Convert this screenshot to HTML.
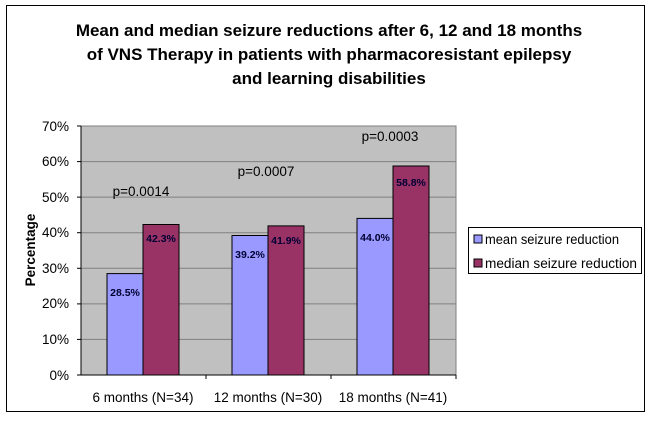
<!DOCTYPE html><html><head><style>body{margin:0;background:#fff}svg{font-family:"Liberation Sans",Arial,sans-serif}</style></head><body>
<svg width="648" height="424" xmlns="http://www.w3.org/2000/svg">
<rect x="0" y="0" width="648" height="424" fill="#fff"/>
<rect x="6.5" y="5.5" width="638" height="406" fill="#fff" stroke="#000"/>
<g font-weight="bold" font-size="17" text-anchor="middle" fill="#000">
<text x="329" y="36">Mean and median seizure reductions after 6, 12 and 18 months</text>
<text x="329" y="60">of VNS Therapy in patients with pharmacoresistant epilepsy</text>
<text x="329" y="84">and learning disabilities</text></g>
<rect x="81" y="126" width="375" height="249" fill="#c0c0c0" stroke="#808080"/>
<g stroke="#808080">
<line x1="81" x2="456" y1="161.6" y2="161.6"/><line x1="81" x2="456" y1="197.1" y2="197.1"/>
<line x1="81" x2="456" y1="232.7" y2="232.7"/><line x1="81" x2="456" y1="268.3" y2="268.3"/>
<line x1="81" x2="456" y1="303.9" y2="303.9"/><line x1="81" x2="456" y1="339.4" y2="339.4"/></g>
<g stroke="#000">
<line x1="81" x2="81" y1="126" y2="375"/><line x1="81" x2="456" y1="375" y2="375"/>
<line x1="77" x2="81" y1="126" y2="126"/><line x1="77" x2="81" y1="161.6" y2="161.6"/><line x1="77" x2="81" y1="197.1" y2="197.1"/><line x1="77" x2="81" y1="232.7" y2="232.7"/><line x1="77" x2="81" y1="268.3" y2="268.3"/><line x1="77" x2="81" y1="303.9" y2="303.9"/><line x1="77" x2="81" y1="339.4" y2="339.4"/><line x1="77" x2="81" y1="375" y2="375"/>
<line x1="206" x2="206" y1="375" y2="379"/><line x1="331" x2="331" y1="375" y2="379"/><line x1="456" x2="456" y1="375" y2="379"/>
</g>
<g font-size="13.5" text-anchor="end" fill="#000">
<text x="69" y="131">70%</text><text x="69" y="166">60%</text><text x="69" y="202">50%</text><text x="69" y="237">40%</text><text x="69" y="273">30%</text><text x="69" y="308">20%</text><text x="69" y="344">10%</text><text x="69" y="380">0%</text></g>
<text transform="translate(35,250) rotate(-90)" font-size="13.5" font-weight="bold" text-anchor="middle">Percentage</text>
<g stroke="#000">
<rect x="107" y="273.6" width="36" height="101.4" fill="#9999ff"/>
<rect x="143" y="224.5" width="36" height="150.5" fill="#993366"/>
<rect x="232" y="235.5" width="36" height="139.5" fill="#9999ff"/>
<rect x="268" y="225.9" width="36" height="149.1" fill="#993366"/>
<rect x="357" y="218.4" width="36" height="156.6" fill="#9999ff"/>
<rect x="393" y="166" width="36" height="209" fill="#993366"/>
</g>
<g font-size="10.5" font-weight="bold" fill="#000033" text-anchor="middle">
<text x="125" y="296">28.5%</text><text x="161" y="242">42.3%</text>
<text x="250" y="258">39.2%</text><text x="286" y="244">41.9%</text>
<text x="375" y="241">44.0%</text><text x="411" y="186">58.8%</text></g>
<g font-size="13.5" text-anchor="middle" fill="#000">
<text x="141" y="196">p=0.0014</text><text x="266" y="176">p=0.0007</text><text x="390" y="141">p=0.0003</text>
<text x="143" y="402">6 months (N=34)</text><text x="268" y="402">12 months (N=30)</text><text x="393" y="402">18 months (N=41)</text></g>
<rect x="468.5" y="227.5" width="173" height="46" fill="#fff" stroke="#000"/>
<rect x="474" y="235" width="8" height="8" fill="#9999ff" stroke="#000"/>
<rect x="474" y="259" width="8" height="8" fill="#993366" stroke="#000"/>
<g font-size="13.5" fill="#000"><text x="485" y="244" textLength="134" lengthAdjust="spacingAndGlyphs">mean seizure reduction</text><text x="485" y="268" textLength="152" lengthAdjust="spacingAndGlyphs">median seizure reduction</text></g>
</svg></body></html>
